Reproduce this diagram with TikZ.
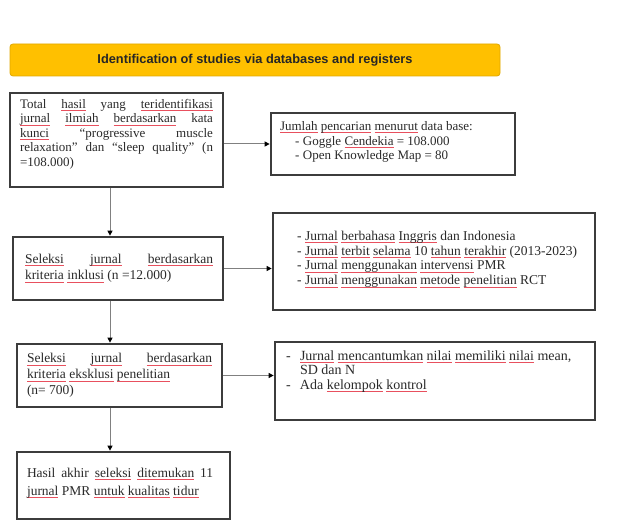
\documentclass[tikz,border=0pt]{standalone}
\usepackage{fontspec}
\setmainfont{Liberation Serif}
\newfontfamily\bannerfont{Liberation Sans}
\usetikzlibrary{arrows.meta}
\definecolor{bannerfill}{HTML}{FFC000}
\definecolor{bannerdraw}{HTML}{E0A800}
\definecolor{boxline}{HTML}{3C3C3C}
\definecolor{txtcol}{HTML}{2A2A2A}
\definecolor{sqred}{HTML}{E8505E}
\definecolor{arrline}{HTML}{808080}
\newsavebox\sqbox
\newcommand\sq[1]{\leavevmode\sbox\sqbox{#1}\rlap{\textcolor{sqred}{\rule[-2.8pt]{\wd\sqbox}{1pt}}}\usebox\sqbox}
% #1 width, #2 height, #3 valign (c/t), #4 left pad, #5 top pad, #6 text width, #7 font size, #8 baselineskip, #9 content
\newcommand\bxc[9]{\begin{minipage}[c][#2pt][#3]{#1pt}\vspace*{#5pt}\hspace*{#4pt}\begin{minipage}[t]{#6pt}\fontsize{#7pt}{#8pt}\selectfont\color{txtcol}#9\end{minipage}\end{minipage}}
\newcommand\dash[1]{\makebox[#1pt][l]{-}}
\tikzset{
  bx/.style={draw=boxline, line width=1.5pt, fill=white, inner sep=0pt},
  banner/.style={draw=bannerdraw, line width=0.8pt, fill=bannerfill, rounded corners=3pt,
    minimum width=490pt, minimum height=32pt, inner sep=0pt,
    font=\bannerfont\bfseries\fontsize{12.8pt}{14pt}\selectfont, text=black!85},
  arr/.style={draw=arrline, line width=1pt, -{Triangle[length=5pt,width=5pt,color=black]}, shorten >=0.6pt}
}
\begin{document}
\begin{tikzpicture}[x=1pt,y=-1pt]
\useasboundingbox[fill=white] (0,0) rectangle (627,521);

\node[banner] (hd) at (255,60) {Identification of studies via databases and registers};

\node[bx] (b1) at (116.5,140) {\bxc{213}{94}{t}{10}{6}{193}{13}{14.6}{Total \sq{hasil} yang \sq{teridentifikasi}\linebreak \sq{jurnal} \sq{ilmiah} \sq{berdasarkan} kata\linebreak \sq{kunci} “progressive muscle\linebreak relaxation” dan “sleep quality” (n\linebreak =108.000)}};

\node[bx] (rb1) at (393,144) {\bxc{244}{62}{t}{9}{8.5}{232}{13}{14.6}{\sq{Jumlah} \sq{pencarian} \sq{menurut} data base:\\
\hspace*{15pt}\dash{8}Goggle \sq{Cendekia} = 108.000\\
\hspace*{15pt}\dash{8}Open Knowledge Map = 80}};

\node[bx] (b2) at (118,268.5) {\bxc{210}{63}{c}{12}{0}{188}{13.5}{16.5}{\sq{Seleksi} \sq{jurnal} \sq{berdasarkan}\linebreak \sq{kriteria} \sq{inklusi} (n =12.000)}};

\node[bx] (rb2) at (434,261.5) {\bxc{322}{97}{t}{24}{18}{294}{13.5}{14.8}{\dash{8}\sq{Jurnal} \sq{berbahasa} \sq{Inggris} dan Indonesia\\
\dash{8}\sq{Jurnal} \sq{terbit} \sq{selama} 10 \sq{tahun} \sq{terakhir} (2013-2023)\\
\dash{8}\sq{Jurnal} \sq{menggunakan} \sq{intervensi} PMR\\
\dash{8}\sq{Jurnal} \sq{menggunakan} \sq{metode} \sq{penelitian} RCT}};

\node[bx] (b3) at (119.5,375.5) {\bxc{205}{63}{c}{10}{0}{185}{13.5}{15.8}{\sq{Seleksi} \sq{jurnal} \sq{berdasarkan}\linebreak \sq{kriteria} \sq{eksklusi} \sq{penelitian}\\ (n= 700)}};

\node[bx] (rb3) at (435,381) {\bxc{320}{78}{t}{11}{8.5}{304}{14}{14.6}{{\hangindent=14pt\hangafter=1 \dash{14}\sq{Jurnal} \sq{mencantumkan} \sq{nilai} \sq{memiliki} \sq{nilai} mean,\\ SD dan N\par}
\dash{14}Ada \sq{kelompok} \sq{kontrol}}};

\node[bx] (b4) at (123.5,485.5) {\bxc{213}{67}{t}{10}{16}{186}{13.5}{18}{Hasil akhir \sq{seleksi} \sq{ditemukan} 11\linebreak \sq{jurnal} PMR \sq{untuk} \sq{kualitas} \sq{tidur}}};

\coordinate (ax) at (110,0);
\draw[arr] (b1.south -| ax) -- (b2.north -| ax);
\draw[arr] (b2.south -| ax) -- (b3.north -| ax);
\draw[arr] (b3.south -| ax) -- (b4.north -| ax);
\draw[arr] (b1.east |- rb1.west) -- (rb1.west);
\draw[arr] (b2.east) -- (b2.east -| rb2.west);
\draw[arr] (b3.east) -- (b3.east -| rb3.west);
\end{tikzpicture}
\end{document}
